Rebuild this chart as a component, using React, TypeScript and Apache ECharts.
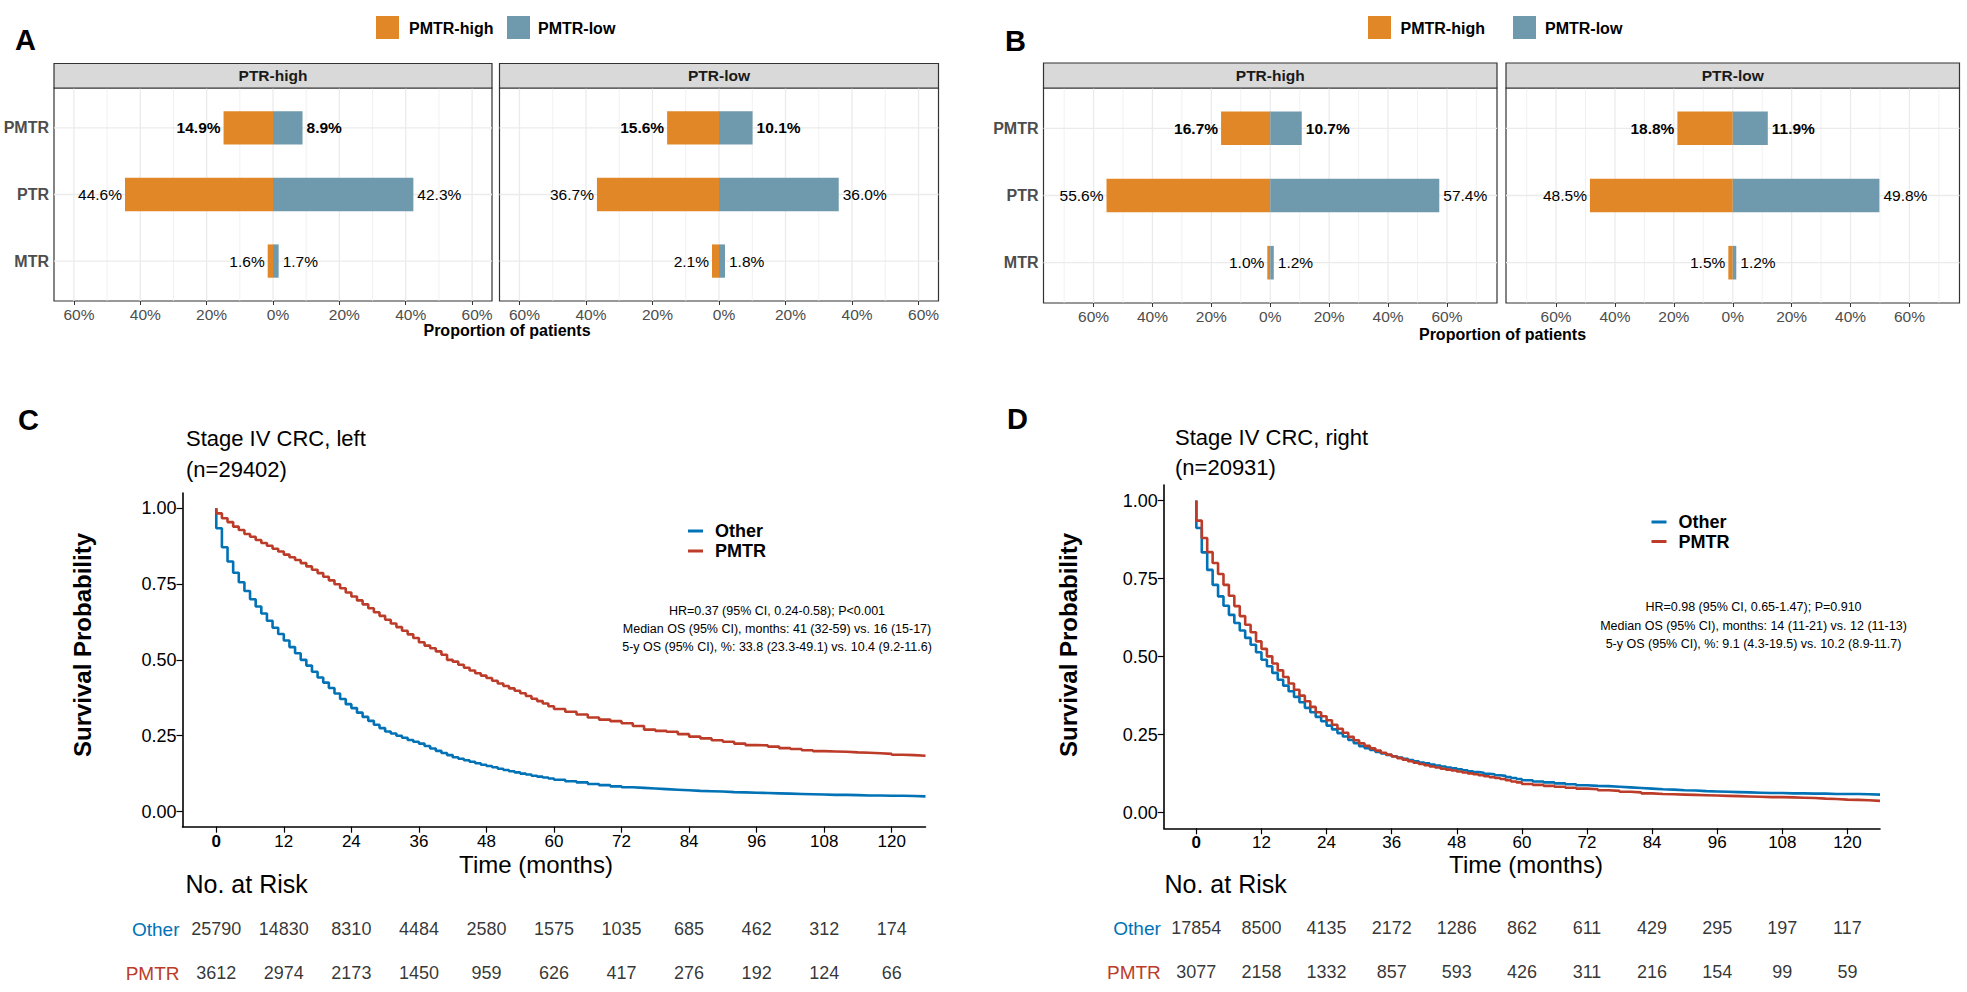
import React, { useEffect, useRef } from 'react';
import * as echarts from 'echarts';

// ---------------- DATA ----------------
const BAR_ROWS = ['PMTR', 'PTR', 'MTR'];
const FACETS = ['PTR-high', 'PTR-low'];
const BAR_GROUPS = ['PMTR-high', 'PMTR-low'];

// Panel A
const A_PTRHIGH_PMTRHIGH = [14.9, 44.6, 1.6];
const A_PTRHIGH_PMTRLOW = [8.9, 42.3, 1.7];
const A_PTRLOW_PMTRHIGH = [15.6, 36.7, 2.1];
const A_PTRLOW_PMTRLOW = [10.1, 36.0, 1.8];
// Panel B
const B_PTRHIGH_PMTRHIGH = [16.7, 55.6, 1.0];
const B_PTRHIGH_PMTRLOW = [10.7, 57.4, 1.2];
const B_PTRLOW_PMTRHIGH = [18.8, 48.5, 1.5];
const B_PTRLOW_PMTRLOW = [11.9, 49.8, 1.2];

const PCT_TICKS = [-60, -40, -20, 0, 20, 40, 60];
const A_GRID_VALUES = [-60, -50, -40, -30, -20, -10, 0, 10, 20, 30, 40, 50, 60];
const B_GRID_VALUES = [-70, -60, -50, -40, -30, -20, -10, 0, 10, 20, 30, 40, 50, 60, 70];

// Kaplan-Meier curves (months, survival)
const KM_TIMES = [
  0, 0, 1, 2, 3, 4, 5, 6, 7, 8, 9, 10, 11, 12, 13, 14, 15, 16, 17, 18, 19, 20, 21, 22, 23, 24, 25, 26, 27, 28, 29,
  30, 31, 32, 33, 34, 35, 36, 37, 38, 39, 40, 41, 42, 43, 44, 45, 46, 47, 48, 49, 50, 51, 52, 53, 54, 55, 56, 57, 58, 59, 60,
  62, 64, 66, 68, 70, 72, 74, 76, 78, 80, 82, 84, 86, 88, 90, 92, 94, 96, 98, 100,
  102, 104, 106, 108, 110, 112, 114, 116, 118, 120, 122, 124, 126,
];
const C_OTHER = [
  1.0, 0.934, 0.871, 0.824, 0.787, 0.756, 0.727, 0.700, 0.676, 0.653, 0.629,
  0.606, 0.585, 0.564, 0.542, 0.522, 0.500, 0.481, 0.461, 0.442, 0.425,
  0.407, 0.389, 0.371, 0.354, 0.341, 0.326, 0.312, 0.299, 0.286, 0.275,
  0.264, 0.257, 0.250, 0.243, 0.236, 0.230, 0.224, 0.216, 0.208, 0.200,
  0.193, 0.186, 0.179, 0.174, 0.169, 0.164, 0.159, 0.154, 0.150, 0.146,
  0.141, 0.137, 0.133, 0.129, 0.125, 0.122, 0.118, 0.115, 0.112, 0.109,
  0.105,
  0.100, 0.096, 0.091, 0.087, 0.083, 0.080, 0.078, 0.076, 0.074, 0.072,
  0.070, 0.068, 0.067, 0.066, 0.064, 0.063, 0.062, 0.061, 0.060, 0.059,
  0.058, 0.057, 0.056, 0.055, 0.055, 0.054, 0.053, 0.053, 0.052, 0.052,
  0.051, 0.050, 0.050,
];
const C_PMTR = [
  1.0, 0.983, 0.967, 0.954, 0.939, 0.928, 0.915, 0.906, 0.895, 0.885, 0.876,
  0.866, 0.857, 0.847, 0.838, 0.829, 0.819, 0.808, 0.797, 0.786, 0.774,
  0.762, 0.749, 0.736, 0.722, 0.709, 0.696, 0.683, 0.670, 0.657, 0.645,
  0.632, 0.620, 0.608, 0.596, 0.584, 0.572, 0.558, 0.547, 0.538, 0.528,
  0.517, 0.500, 0.494, 0.484, 0.474, 0.465, 0.456, 0.448, 0.440, 0.431,
  0.422, 0.414, 0.406, 0.398, 0.390, 0.381, 0.372, 0.364, 0.356, 0.347,
  0.338,
  0.329, 0.320, 0.310, 0.303, 0.298, 0.291, 0.282, 0.270, 0.266, 0.263,
  0.255, 0.247, 0.241, 0.235, 0.230, 0.224, 0.219, 0.218, 0.214, 0.209,
  0.206, 0.202, 0.199, 0.198, 0.197, 0.195, 0.194, 0.192, 0.190, 0.187,
  0.186, 0.184, 0.184,
];
const D_OTHER = [
  1.0, 0.912, 0.834, 0.778, 0.730, 0.693, 0.663, 0.634, 0.608, 0.584, 0.560,
  0.538, 0.514, 0.490, 0.469, 0.448, 0.426, 0.407, 0.389, 0.371, 0.354,
  0.336, 0.322, 0.307, 0.293, 0.279, 0.267, 0.255, 0.244, 0.233, 0.223,
  0.213, 0.207, 0.201, 0.195, 0.190, 0.185, 0.181, 0.177, 0.173, 0.169,
  0.165, 0.161, 0.158, 0.154, 0.151, 0.148, 0.145, 0.142, 0.139, 0.136,
  0.133, 0.130, 0.128, 0.125, 0.123, 0.120, 0.118, 0.114, 0.111, 0.108,
  0.104,
  0.100, 0.097, 0.094, 0.091, 0.088, 0.086, 0.085, 0.083, 0.081, 0.079,
  0.077, 0.075, 0.074, 0.072, 0.071, 0.069, 0.068, 0.067, 0.066, 0.065,
  0.064, 0.063, 0.063, 0.062, 0.062, 0.061, 0.061, 0.060, 0.060, 0.060,
  0.059, 0.058, 0.057,
];
const D_PMTR = [
  1.0, 0.936, 0.880, 0.835, 0.800, 0.765, 0.730, 0.695, 0.662, 0.630, 0.602,
  0.578, 0.549, 0.525, 0.501, 0.478, 0.456, 0.435, 0.414, 0.394, 0.375,
  0.357, 0.339, 0.322, 0.309, 0.296, 0.282, 0.269, 0.256, 0.243, 0.232,
  0.222, 0.214, 0.206, 0.199, 0.192, 0.186, 0.180, 0.175, 0.170, 0.165,
  0.160, 0.156, 0.152, 0.148, 0.145, 0.141, 0.138, 0.135, 0.132, 0.129,
  0.126, 0.123, 0.120, 0.117, 0.114, 0.111, 0.108, 0.104, 0.100, 0.097,
  0.092,
  0.089, 0.086, 0.083, 0.080, 0.077, 0.075, 0.072, 0.070, 0.067, 0.065,
  0.062, 0.060, 0.059, 0.058, 0.057, 0.056, 0.055, 0.054, 0.053, 0.052,
  0.051, 0.050, 0.050, 0.049, 0.048, 0.047, 0.045, 0.044, 0.042, 0.041,
  0.040, 0.038, 0.037,
];

const TIME_TICKS = [0, 12, 24, 36, 48, 60, 72, 84, 96, 108, 120];
const SURV_TICKS = [0, 0.25, 0.5, 0.75, 1];
const RISK_GROUPS = ['Other', 'PMTR'];
const C_RISK_OTHER = [25790, 14830, 8310, 4484, 2580, 1575, 1035, 685, 462, 312, 174];
const C_RISK_PMTR = [3612, 2974, 2173, 1450, 959, 626, 417, 276, 192, 124, 66];
const D_RISK_OTHER = [17854, 8500, 4135, 2172, 1286, 862, 611, 429, 295, 197, 117];
const D_RISK_PMTR = [3077, 2158, 1332, 857, 593, 426, 311, 216, 154, 99, 59];

const C_STATS = [
  'HR=0.37 (95% CI, 0.24-0.58); P<0.001',
  'Median OS (95% CI), months: 41 (32-59) vs. 16 (15-17)',
  '5-y OS (95% CI), %: 33.8 (23.3-49.1) vs. 10.4 (9.2-11.6)',
];
const D_STATS = [
  'HR=0.98 (95% CI, 0.65-1.47); P=0.910',
  'Median OS (95% CI), months: 14 (11-21) vs. 12 (11-13)',
  '5-y OS (95% CI), %: 9.1 (4.3-19.5) vs. 10.2 (8.9-11.7)',
];

// ---------------- STYLE ----------------
const FONT = '"Liberation Sans", Arial, Helvetica, sans-serif';
const ORANGE = '#E18727';
const SLATE = '#6F99AD';
const KM_BLUE = '#0072B5';
const KM_RED = '#BC3C29';

function txt(x: number, y: number, text: string, o: any = {}) {
  const align = o.align || 'left';
  return {
    type: 'text',
    x,
    y,
    rotation: o.rotation || 0,
    silent: true,
    z: 100,
    style: {
      text,
      fill: o.color || '#000',
      fontSize: o.size || 16,
      fontWeight: o.weight || 'normal',
      fontFamily: FONT,
      textAlign: align,
      textVerticalAlign: 'middle',
      align,
      verticalAlign: 'middle',
    },
  };
}

function rect(x: number, y: number, w: number, h: number, style: any) {
  return { type: 'rect', shape: { x, y, width: w, height: h }, style, silent: true, z: 90 };
}

function hline(x1: number, x2: number, y: number, color: string, width: number) {
  return { type: 'line', shape: { x1, y1: y, x2, y2: y }, style: { stroke: color, lineWidth: width }, silent: true, z: 100 };
}

function buildOption() {
  const grids: any[] = [];
  const xAxes: any[] = [];
  const yAxes: any[] = [];
  const series: any[] = [];
  const graphics: any[] = [];

  // ---------- bar facets ----------
  const facets = [
    { left: 54, top: 88, width: 438, height: 213, lim: 66, showY: true, shift: true, high: A_PTRHIGH_PMTRHIGH, low: A_PTRHIGH_PMTRLOW, gv: A_GRID_VALUES, strip: FACETS[0] },
    { left: 499.5, top: 88, width: 439, height: 213, lim: 66, showY: false, shift: true, high: A_PTRLOW_PMTRHIGH, low: A_PTRLOW_PMTRLOW, gv: A_GRID_VALUES, strip: FACETS[1] },
    { left: 1043.5, top: 88, width: 453.5, height: 215, lim: 77, showY: true, shift: false, high: B_PTRHIGH_PMTRHIGH, low: B_PTRHIGH_PMTRLOW, gv: B_GRID_VALUES, strip: FACETS[0] },
    { left: 1506, top: 88, width: 453.5, height: 215, lim: 77, showY: false, shift: false, high: B_PTRLOW_PMTRHIGH, low: B_PTRLOW_PMTRLOW, gv: B_GRID_VALUES, strip: FACETS[1] },
  ];

  facets.forEach((f, gi) => {
    grids.push({
      left: f.left, top: f.top, width: f.width, height: f.height,
      show: true, borderColor: '#333333', borderWidth: 1.2, backgroundColor: 'transparent',
      containLabel: false, outerBoundsMode: 'none',
    });
    xAxes.push({
      type: 'value', gridIndex: gi, min: -f.lim, max: f.lim,
      axisLine: { show: false }, splitLine: { show: false },
      axisTick: { show: true, customValues: PCT_TICKS, length: 4, lineStyle: { color: '#333333', width: 1 } },
      axisLabel: {
        show: true, customValues: PCT_TICKS, formatter: (v: number) => Math.abs(v) + '%',
        color: '#4d4d4d', fontSize: 15.5, fontFamily: FONT, margin: 5,
        padding: f.shift ? [0, 0, 0, 10] : 0,
      },
    });
    yAxes.push({
      type: 'value', gridIndex: gi, min: 0.4, max: 3.6, inverse: true,
      axisLine: { show: false }, splitLine: { show: false },
      axisTick: { show: f.showY, customValues: [1, 2, 3], length: 4, lineStyle: { color: '#333333', width: 1 } },
      axisLabel: {
        show: f.showY, customValues: [1, 2, 3],
        formatter: (v: number) => BAR_ROWS[Math.round(v) - 1] || '',
        color: '#4d4d4d', fontSize: 16, fontWeight: 'bold', fontFamily: FONT, margin: 5,
      },
    });
    // vertical gridlines
    series.push({
      type: 'custom', xAxisIndex: gi, yAxisIndex: gi, silent: true, z: 1,
      data: f.gv.map((v) => [v, 2]),
      renderItem: (params: any, api: any) => {
        const v = api.value(0);
        const x = api.coord([v, 2])[0];
        const cs = params.coordSys;
        const major = Math.abs(v) % 20 === 0;
        return {
          type: 'line',
          shape: { x1: x, y1: cs.y, x2: x, y2: cs.y + cs.height },
          style: { stroke: '#ebebeb', lineWidth: major ? 1.3 : 0.7 },
        };
      },
    });
    // horizontal gridlines
    series.push({
      type: 'custom', xAxisIndex: gi, yAxisIndex: gi, silent: true, z: 1,
      data: [1, 2, 3].map((r) => [0, r]),
      renderItem: (params: any, api: any) => {
        const y = api.coord([0, api.value(1)])[1];
        const cs = params.coordSys;
        return {
          type: 'line',
          shape: { x1: cs.x, y1: y, x2: cs.x + cs.width, y2: y },
          style: { stroke: '#ebebeb', lineWidth: 1.3 },
        };
      },
    });
    // bars
    const groups = [
      { name: BAR_GROUPS[0], vals: f.high, sign: -1, color: ORANGE },
      { name: BAR_GROUPS[1], vals: f.low, sign: 1, color: SLATE },
    ];
    groups.forEach((g) => {
      series.push({
        type: 'custom', name: g.name, xAxisIndex: gi, yAxisIndex: gi, silent: true, z: 3,
        data: g.vals.map((v, i) => [g.sign * v, i + 1]),
        renderItem: (params: any, api: any) => {
          const v = api.value(0);
          const row = api.value(1);
          const p0 = api.coord([0, row]);
          const p1 = api.coord([v, row]);
          const h = api.size([0, 0.5])[1];
          const neg = v < 0;
          const align = neg ? 'right' : 'left';
          return {
            type: 'group',
            children: [
              {
                type: 'rect',
                shape: { x: Math.min(p0[0], p1[0]), y: p0[1] - h / 2, width: Math.abs(p1[0] - p0[0]), height: h },
                style: { fill: g.color },
              },
              {
                type: 'text',
                x: neg ? p1[0] - 3 : p1[0] + 4,
                y: p0[1],
                style: {
                  text: Math.abs(v).toFixed(1) + '%',
                  fill: '#000',
                  fontSize: 15.5,
                  fontWeight: row === 1 ? 'bold' : 'normal',
                  fontFamily: FONT,
                  textAlign: align,
                  textVerticalAlign: 'middle',
                  align,
                  verticalAlign: 'middle',
                },
              },
            ],
          };
        },
      });
    });
    // strip
    const stripTop = gi < 2 ? 63.5 : 63;
    graphics.push(rect(f.left, stripTop, f.width, f.top - stripTop, { fill: '#d9d9d9', stroke: '#333333', lineWidth: 1.2 }));
    graphics.push(txt(f.left + f.width / 2, (stripTop + f.top) / 2, f.strip, { align: 'center', weight: 'bold', size: 15.5, color: '#1a1a1a' }));
  });

  // bar legends, letters, axis titles
  const legends = [
    { x1: 376, t1: 409, x2: 507, t2: 538 },
    { x1: 1368, t1: 1400.5, x2: 1513, t2: 1545 },
  ];
  legends.forEach((l) => {
    graphics.push(rect(l.x1, 16, 23, 23, { fill: ORANGE }));
    graphics.push(txt(l.t1, 28, BAR_GROUPS[0], { weight: 'bold', size: 16 }));
    graphics.push(rect(l.x2, 16, 23, 23, { fill: SLATE }));
    graphics.push(txt(l.t2, 28, BAR_GROUPS[1], { weight: 'bold', size: 16 }));
  });
  graphics.push(txt(15, 40, 'A', { weight: 'bold', size: 29 }));
  graphics.push(txt(1005, 41, 'B', { weight: 'bold', size: 29 }));
  graphics.push(txt(18, 420, 'C', { weight: 'bold', size: 29 }));
  graphics.push(txt(1007, 419, 'D', { weight: 'bold', size: 29 }));
  graphics.push(txt(507, 330, 'Proportion of patients', { align: 'center', weight: 'bold', size: 16 }));
  graphics.push(txt(1502.5, 334, 'Proportion of patients', { align: 'center', weight: 'bold', size: 16 }));

  // ---------- KM panels ----------
  const kms = [
    {
      left: 182.5, top: 493, width: 743, height: 333.7,
      other: C_OTHER, pmtr: C_PMTR, riskOther: C_RISK_OTHER, riskPmtr: C_RISK_PMTR,
      riskTop: 907, title: ['Stage IV CRC, left', '(n=29402)'], titleX: 186, titleY: [438, 469],
      legX: 688, legY: [531, 551], stats: C_STATS, statsX: 777, statsY: [610.7, 629, 647.3],
      timeX: 536, ylabX: 82, noRiskX: 185.5,
    },
    {
      left: 1163.8, top: 485, width: 716.2, height: 343.3,
      other: D_OTHER, pmtr: D_PMTR, riskOther: D_RISK_OTHER, riskPmtr: D_RISK_PMTR,
      riskTop: 906, title: ['Stage IV CRC, right', '(n=20931)'], titleX: 1175, titleY: [437, 467],
      legX: 1651.5, legY: [522, 541.5], stats: D_STATS, statsX: 1753.5, statsY: [607.3, 626, 644.3],
      timeX: 1526, ylabX: 1068, noRiskX: 1164.5,
    },
  ];

  kms.forEach((k) => {
    const gi = grids.length;
    grids.push({ left: k.left, top: k.top, width: k.width, height: k.height, containLabel: false, outerBoundsMode: 'none' });
    xAxes.push({
      type: 'value', gridIndex: gi, min: -6, max: 126,
      axisLine: { show: true, onZero: false, lineStyle: { color: '#000', width: 1.6 } },
      axisTick: { show: true, customValues: TIME_TICKS, length: 6, lineStyle: { color: '#000', width: 1.2 } },
      axisLabel: {
        show: true, customValues: TIME_TICKS,
        formatter: (v: number) => (v === 0 ? '{b|0}' : String(v)),
        rich: { b: { fontWeight: 'bold', fontSize: 17, color: '#000', fontFamily: FONT } },
        color: '#000', fontSize: 17, fontFamily: FONT, margin: 6,
      },
      splitLine: { show: false },
    });
    yAxes.push({
      type: 'value', gridIndex: gi, min: -0.05, max: 1.05,
      axisLine: { show: true, onZero: false, lineStyle: { color: '#000', width: 1.6 } },
      axisTick: { show: true, customValues: SURV_TICKS, length: 6, lineStyle: { color: '#000', width: 1.2 } },
      axisLabel: {
        show: true, customValues: SURV_TICKS, formatter: (v: number) => v.toFixed(2),
        color: '#000', fontSize: 18, fontFamily: FONT, margin: 6,
      },
      splitLine: { show: false },
    });
    series.push({
      type: 'line', name: RISK_GROUPS[0], xAxisIndex: gi, yAxisIndex: gi, step: 'end', symbol: 'none', silent: true, z: 3,
      lineStyle: { color: KM_BLUE, width: 2.6 }, itemStyle: { color: KM_BLUE },
      data: KM_TIMES.map((t, i) => [t, k.other[i]]),
    });
    series.push({
      type: 'line', name: RISK_GROUPS[1], xAxisIndex: gi, yAxisIndex: gi, step: 'end', symbol: 'none', silent: true, z: 4,
      lineStyle: { color: KM_RED, width: 2.6 }, itemStyle: { color: KM_RED },
      data: KM_TIMES.map((t, i) => [t, k.pmtr[i]]),
    });

    // risk table grid
    const ri = grids.length;
    grids.push({ left: k.left, top: k.riskTop, width: k.width, height: 88, containLabel: false, outerBoundsMode: 'none' });
    xAxes.push({ type: 'value', gridIndex: ri, min: -6, max: 126, show: false });
    yAxes.push({
      type: 'category', gridIndex: ri, data: RISK_GROUPS, inverse: true,
      axisLine: { show: false }, axisTick: { show: false }, splitLine: { show: false },
      axisLabel: {
        show: true, fontSize: 19, fontFamily: FONT, margin: 3,
        color: (v: string) => (v === 'Other' ? KM_BLUE : KM_RED),
      },
    });
    [k.riskOther, k.riskPmtr].forEach((counts, gIdx) => {
      series.push({
        type: 'scatter', xAxisIndex: ri, yAxisIndex: ri, silent: true, symbolSize: 1,
        itemStyle: { color: 'rgba(0,0,0,0)' },
        label: {
          show: true, position: 'inside', color: '#000', fontSize: 18, fontFamily: FONT,
          formatter: (p: any) => String(p.value[2]),
        },
        data: TIME_TICKS.map((t, i) => [t, RISK_GROUPS[gIdx], counts[i]]),
      });
    });

    // texts
    graphics.push(txt(k.titleX, k.titleY[0], k.title[0], { size: 22 }));
    graphics.push(txt(k.titleX, k.titleY[1], k.title[1], { size: 22 }));
    graphics.push(hline(k.legX, k.legX + 15, k.legY[0], KM_BLUE, 3));
    graphics.push(txt(k.legX + 27, k.legY[0], RISK_GROUPS[0], { weight: 'bold', size: 18 }));
    graphics.push(hline(k.legX, k.legX + 15, k.legY[1], KM_RED, 3));
    graphics.push(txt(k.legX + 27, k.legY[1], RISK_GROUPS[1], { weight: 'bold', size: 18 }));
    k.stats.forEach((s, i) => graphics.push(txt(k.statsX, k.statsY[i], s, { align: 'center', size: 12.5 })));
    graphics.push(txt(k.timeX, 864, 'Time (months)', { align: 'center', size: 24 }));
    graphics.push(txt(k.noRiskX, 884, 'No. at Risk', { size: 25 }));
    graphics.push(txt(k.ylabX, 645, 'Survival Probability', { align: 'center', weight: 'bold', size: 24, rotation: Math.PI / 2 }));
  });

  return {
    animation: false,
    backgroundColor: '#ffffff',
    textStyle: { fontFamily: FONT },
    grid: grids,
    xAxis: xAxes,
    yAxis: yAxes,
    series,
    graphic: { elements: graphics },
  };
}

export default function App() {
  const ref = useRef<HTMLDivElement>(null);
  useEffect(() => {
    if (!ref.current) return;
    const chart = echarts.init(ref.current, null, { renderer: 'svg' });
    chart.setOption(buildOption() as any);
    return () => chart.dispose();
  }, []);
  return (
    <div
      ref={ref}
      style={{ position: 'fixed', left: 0, top: 0, width: 1967, height: 992, background: '#ffffff' }}
    />
  );
}
